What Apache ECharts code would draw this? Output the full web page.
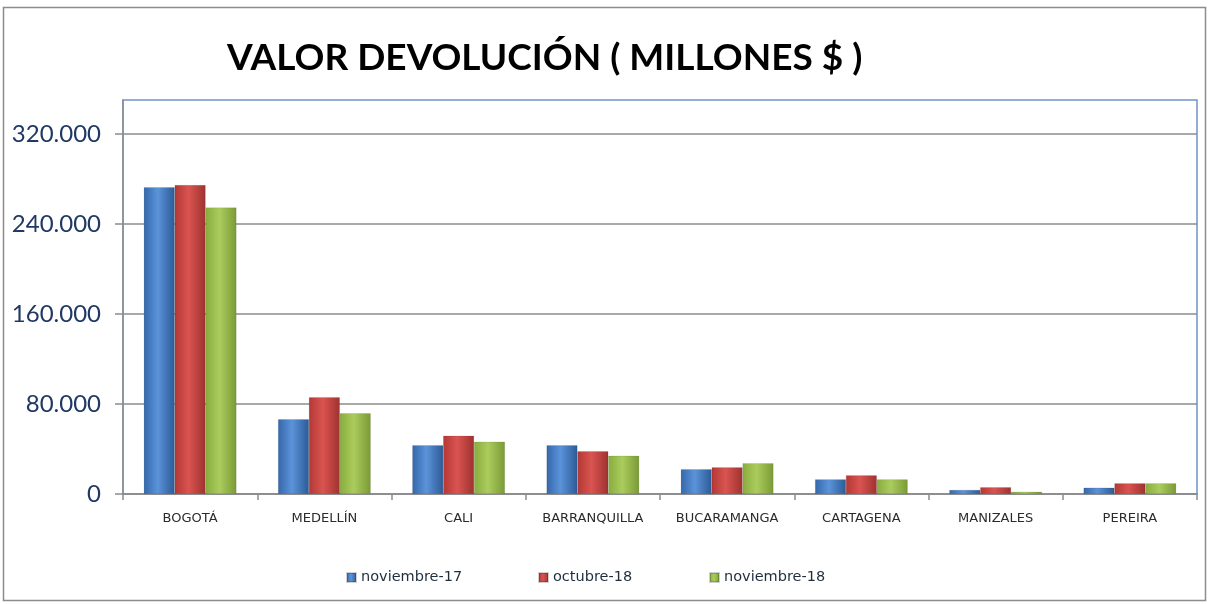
<!DOCTYPE html>
<html><head><meta charset="utf-8">
<script src="https://cdn.jsdelivr.net/npm/echarts@6/dist/echarts.min.js"></script>
<style>html,body{margin:0;padding:0;background:#fff}#c{width:1209px;height:604px}</style>
</head><body><div id="c"></div>
<script>
var categories = ['BOGOTÁ','MEDELLÍN','CALI','BARRANQUILLA','BUCARAMANGA','CARTAGENA','MANIZALES','PEREIRA'];
var seriesNames = ['noviembre-17','octubre-18','noviembre-18'];
var nov17 = [272600, 66400, 43300, 43300, 22000, 13000, 3600, 5600];
var oct18 = [274400, 86000, 51800, 38000, 23700, 16600, 6000, 9500];
var nov18 = [254500, 71700, 46500, 34000, 27300, 13000, 2000, 9500];
var yTicks = [0, 80000, 160000, 240000, 320000];
var yMax = 350000;

var chart = echarts.init(document.getElementById('c'));
function grad(l, m, r) {
  return new echarts.graphic.LinearGradient(0, 0, 1, 0, [
    {offset: 0, color: l}, {offset: 0.45, color: m}, {offset: 1, color: r}]);
}
var styles = [
  {c: '#4F81BD', g: grad('#3567AA', '#5B93DA', '#2C5A96')},
  {c: '#C0504D', g: grad('#B23835', '#DA5450', '#9E3230')},
  {c: '#9BBB59', g: grad('#88AC3E', '#ABCC5D', '#7A9A36')}
];
var data = [nov17, oct18, nov18];
var legendX = [341, 533, 704];
function fmt(v) { return String(v).replace(/\B(?=(\d{3})+(?!\d))/g, '.'); }

chart.setOption({
  animation: false,
  title: {
    text: 'VALOR DEVOLUCIÓN ( MILLONES $ )',
    left: 222, top: 35,
    textStyle: {fontFamily: 'Lato', fontWeight: 'bold', fontSize: 37, color: '#000'}
  },
  legend: seriesNames.map(function (n, i) {
    return {
      data: [n], left: legendX[i], top: 565, icon: 'rect', itemWidth: 9, itemHeight: 9, itemGap: 6,
      textStyle: {fontFamily: 'DejaVu Sans', fontSize: 14.5, color: '#1F2D3D'}
    };
  }),
  grid: {left: 123, right: 12, top: 100, bottom: 110, show: true, borderColor: '#6F94C8', borderWidth: 1.5, backgroundColor: 'transparent'},
  xAxis: {
    type: 'category', data: categories,
    axisLine: {lineStyle: {color: '#8C8C8C', width: 1.5}},
    axisTick: {show: true, length: 6, lineStyle: {color: '#8C8C8C', width: 1.5}},
    axisLabel: {interval: 0, hideOverlap: false, margin: 18, fontFamily: 'DejaVu Sans', fontSize: 13, color: '#2B2B2B'}
  },
  yAxis: {
    type: 'value', min: 0, max: yMax, interval: 80000,
    axisLine: {show: true, lineStyle: {color: '#8C8C8C', width: 1.5}},
    axisTick: {show: true, length: 8, customValues: yTicks, lineStyle: {color: '#8C8C8C', width: 1.5}},
    axisLabel: {customValues: yTicks, margin: 22, fontFamily: 'Lato', fontSize: 24, color: '#1F3864',
      formatter: function (v) { return fmt(v); }},
    splitLine: {lineStyle: {color: '#8C8C8C', width: 1.5}}
  },
  graphic: [{type: 'rect', shape: {x: 3.5, y: 7.5, width: 1202, height: 593}, style: {fill: 'none', stroke: '#8C8C8C', lineWidth: 1.5}, silent: true}],
  series: data.map(function (d, i) {
    return {
      name: seriesNames[i], type: 'bar', data: d, barGap: '0%', barCategoryGap: '31%',
      itemStyle: {color: styles[i].g, borderColor: 'rgba(0,0,0,0.18)', borderWidth: 0.5}
    };
  })
});
</script>
</body></html>
